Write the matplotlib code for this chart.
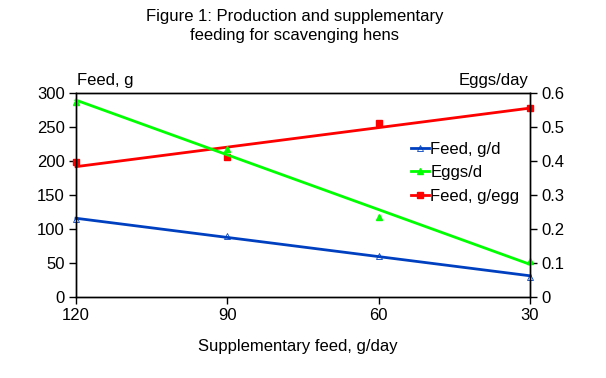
import numpy as np
import matplotlib
matplotlib.use("Agg")
import matplotlib.pyplot as plt
from matplotlib.lines import Line2D

plt.rcParams['font.family'] = ['Liberation Sans', 'DejaVu Sans']

supp_feed = [120, 90, 60, 30]
feed_gd = [114, 90, 60, 30]
eggs_d = [0.575, 0.435, 0.235, 0.105]
feed_gegg = [199, 206, 256, 278]

x_ticks = [120, 90, 60, 30]
left_ticks = [0, 50, 100, 150, 200, 250, 300]
right_ticks = [0, 0.1, 0.2, 0.3, 0.4, 0.5, 0.6]

blue = '#0040c0'
green = '#00ff00'
red = '#ff0000'

fig = plt.figure(figsize=(6.06, 3.78), dpi=100)
ax = fig.add_axes([76/606, 1-297/378, (530-76)/606, (297-93)/378])
ax2 = ax.twinx()

x = np.array(supp_feed, dtype=float)
xl = np.array([120, 30], dtype=float)

def trend(y):
    p = np.polyfit(x, np.array(y, dtype=float), 1)
    return np.polyval(p, xl)

ax.plot(x, feed_gd, linestyle='none', marker='^', ms=4, mfc='none', mec=blue, mew=0.6, clip_on=False)
ax.plot(xl, trend(feed_gd), color=blue, lw=2, clip_on=False)
ax2.plot(x, eggs_d, linestyle='none', marker='^', ms=5, color=green, clip_on=False)
ax2.plot(xl, trend(eggs_d), color=green, lw=2, clip_on=False)
ax.plot(x, feed_gegg, linestyle='none', marker='s', ms=5, color=red, clip_on=False)
ax.plot(xl, trend(feed_gegg), color=red, lw=2, clip_on=False)

ax.set_xlim(120, 30)
ax.set_ylim(0, 300)
ax2.set_ylim(0, 0.6)
ax.set_xticks(x_ticks)
ax.set_xticklabels([str(v) for v in x_ticks])
ax.set_yticks(left_ticks)
ax.set_yticklabels([str(v) for v in left_ticks])
ax2.set_yticks(right_ticks)
ax2.set_yticklabels(['0'] + ['%.1f' % v for v in right_ticks[1:]])

for a in (ax, ax2):
    a.tick_params(direction='out', length=5, width=1, labelsize=12, colors='black', pad=3)
    for s in a.spines.values():
        s.set_linewidth(1)
        s.set_color('black')

handles = [
    Line2D([], [], color=blue, lw=2, marker='^', ms=4, mfc='none', mec=blue, mew=0.6),
    Line2D([], [], color=green, lw=2, marker='^', ms=5),
    Line2D([], [], color=red, lw=2, marker='s', ms=5),
]
ax.legend(handles, ['Feed, g/d', 'Eggs/d', 'Feed, g/egg'], loc='upper left',
          bbox_to_anchor=((411-76)/454, 1-(142-93)/204), frameon=False, fontsize=12,
          handlelength=1.1, handletextpad=0.05, labelspacing=0.5, borderaxespad=0,
          borderpad=0)

fig.text(295/606, 1-26/378, 'Figure 1: Production and supplementary\nfeeding for scavenging hens',
         ha='center', va='center', fontsize=12, linespacing=1.3)
fig.text(77/606, 1-80/378, 'Feed, g', ha='left', va='center', fontsize=12)
fig.text(528/606, 1-80/378, 'Eggs/day', ha='right', va='center', fontsize=12)
fig.text(298/606, 1-346/378, 'Supplementary feed, g/day', ha='center', va='center', fontsize=12)

fig.savefig('out.png', dpi=100)
